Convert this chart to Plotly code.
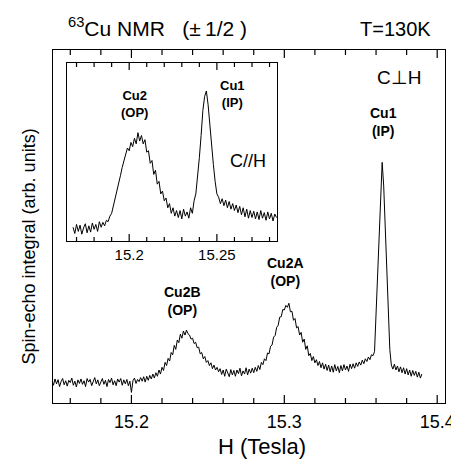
import plotly.graph_objects as go

# ---------------- data ----------------
main_field = [
    15.148, 15.149, 15.150, 15.151, 15.152, 15.153, 15.154, 15.155, 15.156, 15.157,
    15.158, 15.159, 15.160, 15.161, 15.162, 15.163, 15.164, 15.165, 15.166, 15.167,
    15.168, 15.169, 15.170, 15.171, 15.172, 15.173, 15.174, 15.175, 15.176, 15.177,
    15.178, 15.179, 15.180, 15.181, 15.182, 15.183, 15.184, 15.185, 15.186, 15.187,
    15.188, 15.189, 15.190, 15.191, 15.192, 15.193, 15.194, 15.195, 15.196, 15.197,
    15.198, 15.199, 15.200, 15.201, 15.202, 15.203, 15.204, 15.205, 15.206, 15.207,
    15.208, 15.209, 15.210, 15.211, 15.212, 15.213, 15.214, 15.215, 15.216, 15.217,
    15.218, 15.219, 15.220, 15.221, 15.222, 15.223, 15.224, 15.225, 15.226, 15.227,
    15.228, 15.229, 15.230, 15.231, 15.232, 15.233, 15.234, 15.235, 15.236, 15.237,
    15.238, 15.239, 15.240, 15.241, 15.242, 15.243, 15.244, 15.245, 15.246, 15.247,
    15.248, 15.249, 15.250, 15.251, 15.252, 15.253, 15.254, 15.255, 15.256, 15.257,
    15.258, 15.259, 15.260, 15.261, 15.262, 15.263, 15.264, 15.265, 15.266, 15.267,
    15.268, 15.269, 15.270, 15.271, 15.272, 15.273, 15.274, 15.275, 15.276, 15.277,
    15.278, 15.279, 15.280, 15.281, 15.282, 15.283, 15.284, 15.285, 15.286, 15.287,
    15.288, 15.289, 15.290, 15.291, 15.292, 15.293, 15.294, 15.295, 15.296, 15.297,
    15.298, 15.299, 15.300, 15.301, 15.302, 15.303, 15.304, 15.305, 15.306, 15.307,
    15.308, 15.309, 15.310, 15.311, 15.312, 15.313, 15.314, 15.315, 15.316, 15.317,
    15.318, 15.319, 15.320, 15.321, 15.322, 15.323, 15.324, 15.325, 15.326, 15.327,
    15.328, 15.329, 15.330, 15.331, 15.332, 15.333, 15.334, 15.335, 15.336, 15.337,
    15.338, 15.339, 15.340, 15.341, 15.342, 15.343, 15.344, 15.345, 15.346, 15.347,
    15.348, 15.349, 15.350, 15.351, 15.352, 15.353, 15.354, 15.355, 15.356, 15.357,
    15.358, 15.359, 15.360, 15.361, 15.362, 15.363, 15.364, 15.365, 15.366, 15.367,
    15.368, 15.369, 15.370, 15.371, 15.372, 15.373, 15.374, 15.375, 15.376, 15.377,
    15.378, 15.379, 15.380, 15.381, 15.382, 15.383, 15.384, 15.385, 15.386, 15.387,
    15.388, 15.389, 15.390,
]
main_echo = [
    0.012, -0.010, 0.018, -0.004, 0.015, -0.016, 0.006, 0.020, -0.008, 0.010,
    -0.014, 0.012, 0.002, 0.022, -0.010, 0.008, -0.018, 0.014, -0.002, 0.018,
    -0.006, 0.010, -0.016, 0.020, 0.004, 0.016, -0.012, 0.006, 0.024, -0.004,
    0.014, -0.012, 0.008, 0.020, -0.006, 0.012, -0.016, 0.016, 0.002, 0.022,
    -0.008, 0.010, -0.012, 0.018, 0.004, 0.020, -0.010, 0.014, -0.004, 0.016,
    -0.012, 0.008, -0.042, 0.010, 0.022, -0.002, 0.016, 0.006, 0.024, 0.008,
    0.028, 0.004, 0.030, 0.012, 0.034, 0.018, 0.040, 0.022, 0.046, 0.030,
    0.058, 0.040, 0.070, 0.056, 0.092, 0.078, 0.110, 0.098, 0.136, 0.126,
    0.168, 0.150, 0.192, 0.180, 0.218, 0.200, 0.232, 0.214, 0.236, 0.220,
    0.214, 0.196, 0.200, 0.176, 0.182, 0.158, 0.160, 0.130, 0.136, 0.108,
    0.118, 0.092, 0.100, 0.078, 0.090, 0.064, 0.080, 0.058, 0.070, 0.050,
    0.064, 0.038, 0.058, 0.030, 0.062, 0.044, 0.028, 0.060, 0.036, 0.056,
    0.030, 0.058, 0.042, 0.066, 0.032, 0.054, 0.040, 0.068, 0.036, 0.062,
    0.044, 0.066, 0.046, 0.070, 0.052, 0.078, 0.060, 0.092, 0.082, 0.108,
    0.100, 0.134, 0.130, 0.164, 0.170, 0.205, 0.212, 0.248, 0.258, 0.294,
    0.296, 0.328, 0.326, 0.346, 0.338, 0.356, 0.318, 0.320, 0.280, 0.288,
    0.246, 0.252, 0.214, 0.226, 0.182, 0.196, 0.150, 0.166, 0.122, 0.132,
    0.100, 0.118, 0.090, 0.104, 0.078, 0.096, 0.068, 0.090, 0.062, 0.084,
    0.056, 0.080, 0.050, 0.076, 0.048, 0.082, 0.054, 0.074, 0.046, 0.078,
    0.054, 0.082, 0.058, 0.076, 0.052, 0.084, 0.064, 0.086, 0.066, 0.090,
    0.074, 0.094, 0.080, 0.102, 0.086, 0.108, 0.096, 0.116, 0.104, 0.126,
    0.122, 0.140, 0.300, 0.480, 0.650, 0.820, 0.985, 0.880, 0.700, 0.500,
    0.320, 0.150, 0.080, 0.062, 0.084, 0.058, 0.076, 0.050, 0.072, 0.046,
    0.068, 0.040, 0.064, 0.036, 0.058, 0.030, 0.056, 0.034, 0.052, 0.026,
    0.048, 0.022, 0.040,
]

inset_field = [
    15.168, 15.169, 15.170, 15.171, 15.172, 15.173, 15.174, 15.175, 15.176, 15.177,
    15.178, 15.179, 15.180, 15.181, 15.182, 15.183, 15.184, 15.185, 15.186, 15.187,
    15.188, 15.189, 15.190, 15.191, 15.192, 15.193, 15.194, 15.195, 15.196, 15.197,
    15.198, 15.199, 15.200, 15.201, 15.202, 15.203, 15.204, 15.205, 15.206, 15.207,
    15.208, 15.209, 15.210, 15.211, 15.212, 15.213, 15.214, 15.215, 15.216, 15.217,
    15.218, 15.219, 15.220, 15.221, 15.222, 15.223, 15.224, 15.225, 15.226, 15.227,
    15.228, 15.229, 15.230, 15.231, 15.232, 15.233, 15.234, 15.235, 15.236, 15.237,
    15.238, 15.239, 15.240, 15.241, 15.242, 15.243, 15.244, 15.245, 15.246, 15.247,
    15.248, 15.249, 15.250, 15.251, 15.252, 15.253, 15.254, 15.255, 15.256, 15.257,
    15.258, 15.259, 15.260, 15.261, 15.262, 15.263, 15.264, 15.265, 15.266, 15.267,
    15.268, 15.269, 15.270, 15.271, 15.272, 15.273, 15.274, 15.275, 15.276, 15.277,
    15.278, 15.279, 15.280, 15.281, 15.282, 15.283, 15.284,
]
inset_echo = [
    0.020, -0.025, 0.040, -0.010, 0.035, -0.030, 0.015, 0.045, -0.020, 0.030,
    -0.015, 0.050, 0.005, 0.040, -0.010, 0.060, 0.020, 0.055, 0.030, 0.070,
    0.060, 0.100, 0.120, 0.170, 0.220, 0.270, 0.340, 0.390, 0.450, 0.500,
    0.530, 0.590, 0.570, 0.630, 0.600, 0.660, 0.620, 0.700, 0.640, 0.680,
    0.620, 0.650, 0.560, 0.570, 0.480, 0.500, 0.400, 0.430, 0.330, 0.350,
    0.260, 0.280, 0.210, 0.230, 0.160, 0.190, 0.120, 0.160, 0.100, 0.140,
    0.090, 0.140, 0.080, 0.150, 0.100, 0.130, 0.085, 0.160, 0.120, 0.210,
    0.260, 0.380, 0.520, 0.680, 0.860, 0.960, 1.000, 0.900, 0.740, 0.600,
    0.470, 0.350, 0.260, 0.235, 0.190, 0.225, 0.175, 0.215, 0.160, 0.205,
    0.150, 0.190, 0.140, 0.180, 0.125, 0.170, 0.110, 0.160, 0.095, 0.150,
    0.085, 0.140, 0.090, 0.135, 0.080, 0.130, 0.075, 0.140, 0.085, 0.125,
    0.070, 0.130, 0.080, 0.120, 0.065, 0.115, 0.090,
]

main_tickvals = [15.2, 15.3, 15.4]
main_ticktext = ["15.2", "15.3", "15.4"]
main_minor_ticks = [15.16, 15.18, 15.22, 15.24, 15.26, 15.28,
                    15.32, 15.34, 15.36, 15.38]
inset_tickvals = [15.2, 15.25]
inset_ticktext = ["15.2", "15.25"]
inset_minor_ticks = [15.17, 15.18, 15.19, 15.21, 15.22, 15.23, 15.24,
                     15.26, 15.27, 15.28]

MAIN_RANGE = [15.1487, 15.4051]
INSET_RANGE = [15.1644, 15.2845]

# ---------------- layout geometry ----------------
W, H = 459, 464
ML, MR, MT, MB = 45, 14, 42, 69
PW, PH = W - ML - MR, H - MT - MB
FONT = "Liberation Sans, Arial, Helvetica, sans-serif"


def px(x, y):
    return (x - ML) / PW, (H - MB - y) / PH


fig = go.Figure()
fig.add_trace(go.Scatter(x=main_field, y=main_echo, mode="lines",
                         line=dict(color="black", width=1), xaxis="x", yaxis="y",
                         showlegend=False, hoverinfo="skip"))
fig.add_trace(go.Scatter(x=inset_field, y=inset_echo, mode="lines",
                         line=dict(color="black", width=1), xaxis="x2", yaxis="y2",
                         showlegend=False, hoverinfo="skip"))

ix0, iy0 = px(59, 233)
ix1, iy1 = px(274, 55)

fig.update_layout(
    width=W, height=H,
    margin=dict(l=ML, r=MR, t=MT, b=MB),
    paper_bgcolor="white", plot_bgcolor="white",
    font=dict(family=FONT, color="black"),
    xaxis=dict(domain=[0, 1], range=MAIN_RANGE, tickmode="array",
               tickvals=main_tickvals, ticktext=main_ticktext, ticks="",
               tickfont=dict(size=18, family=FONT, color="black"),
               ticklabelstandoff=2,
               showline=True, linecolor="black", linewidth=1, mirror=True,
               showgrid=False, zeroline=False),
    yaxis=dict(domain=[0, 1], range=[-0.0893, 1.4866], showticklabels=False,
               showline=True, linecolor="black", linewidth=1, mirror=True,
               showgrid=False, zeroline=False, ticks=""),
    xaxis2=dict(domain=[ix0, ix1], anchor="y2", range=INSET_RANGE, tickmode="array",
                tickvals=inset_tickvals, ticktext=inset_ticktext, ticks="",
                tickfont=dict(size=15, family=FONT, color="black"),
                ticklabelstandoff=0,
                showline=True, linecolor="black", linewidth=1, mirror=True,
                showgrid=False, zeroline=False),
    yaxis2=dict(domain=[iy0, iy1], anchor="x2", range=[-0.079, 1.2014],
                showticklabels=False, showline=True, linecolor="black", linewidth=1,
                mirror=True, showgrid=False, zeroline=False, ticks=""),
)

# tick marks drawn inside the frames (bottom and mirrored top), at the tick array values
shapes = []


def tick_marks(xref, y_bottom, y_top, vals, length_px, width, color):
    h = length_px / PH
    for v in vals:
        shapes.append(dict(type="line", xref=xref, yref="paper", x0=v, x1=v,
                           y0=y_bottom, y1=y_bottom + h,
                           line=dict(color=color, width=width), layer="above"))
        shapes.append(dict(type="line", xref=xref, yref="paper", x0=v, x1=v,
                           y0=y_top, y1=y_top - h,
                           line=dict(color=color, width=width), layer="above"))


tick_marks("x", 0.0, 1.0, main_tickvals, 8, 1.2, "black")
tick_marks("x", 0.0, 1.0, main_minor_ticks, 5, 1.2, "black")
tick_marks("x2", iy0, iy1, inset_tickvals, 7, 1.2, "black")
tick_marks("x2", iy0, iy1, inset_minor_ticks, 4, 1.2, "black")
fig.update_layout(shapes=shapes)

annots = []


def add_text(text, x, y, size, bold=False, xanchor="center", angle=0):
    px_, py_ = px(x, y)
    t = f"<b>{text}</b>" if bold else text
    annots.append(dict(text=t, x=px_, y=py_, xref="paper", yref="paper",
                       xanchor=xanchor, yanchor="middle", showarrow=False,
                       textangle=angle, font=dict(size=size, family=FONT, color="black")))


add_text("<sup>63</sup>Cu NMR\u00a0\u00a0\u00a0(\u00b1\u20091/2\u00a0)",
         58, 19, 21, xanchor="left")
add_text("T=130K", 433, 21, 20, xanchor="right")
add_text("C\u22a5H", 398, 69, 19)
add_text("C//H", 244, 153, 18)
add_text("Spin-echo integral (arb. units)", 21, 238, 18, angle=-90)
add_text("H (Tesla)", 258, 438, 22)

add_text("Cu1<br>(IP)", 382, 114, 14, bold=True)
add_text("Cu2A<br>(OP)", 282, 264, 14, bold=True)
add_text("Cu2B<br>(OP)", 177, 293, 14, bold=True)
add_text("Cu2<br>(OP)", 128, 96, 13, bold=True)
add_text("Cu1<br>(IP)", 228, 86, 13, bold=True)

fig.update_layout(annotations=annots)
fig.write_html("out.html")
